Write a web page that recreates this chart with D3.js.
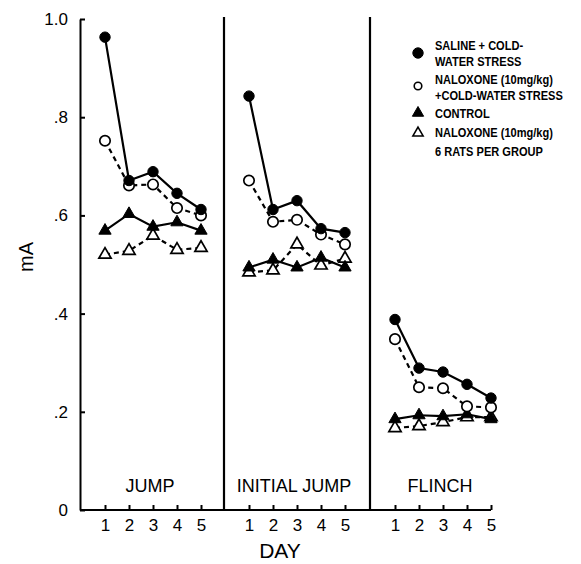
<!DOCTYPE html>
<meta charset="utf-8">
<head>
  <script src="https://d3js.org/d3.v7.min.js"></script>
<style>
body { margin: 0; background: #fff; }
svg { display: block; font-family: "Liberation Sans", Arial, sans-serif; }
.tick line { stroke: #000; stroke-width: 2; }
.tick text { font-size: 17px; fill: #000; }
</style>
</head>
<body>
<script>

// Data (mA per day, one row per panel)
var days = [1, 2, 3, 4, 5];
var panels = ["JUMP", "INITIAL JUMP", "FLINCH"];
var yTicks = [0, 0.2, 0.4, 0.6, 0.8, 1.0];

var salineStress = [
  [0.963, 0.671, 0.689, 0.645, 0.612],
  [0.843, 0.612, 0.630, 0.573, 0.565],
  [0.388, 0.289, 0.281, 0.256, 0.228]
];
var naloxoneStress = [
  [0.752, 0.661, 0.663, 0.615, 0.600],
  [0.671, 0.587, 0.591, 0.561, 0.541],
  [0.348, 0.250, 0.248, 0.211, 0.209]
];
var control = [
  [0.569, 0.603, 0.577, 0.586, 0.569],
  [0.494, 0.510, 0.494, 0.514, 0.494],
  [0.185, 0.193, 0.191, 0.195, 0.185]
];
var naloxone = [
  [0.520, 0.528, 0.559, 0.530, 0.534],
  [0.484, 0.488, 0.541, 0.498, 0.512],
  [0.167, 0.171, 0.179, 0.189, 0.189]
];

var legendLines = [
  "SALINE + COLD-", "WATER STRESS",
  "NALOXONE (10mg/kg)", "+COLD-WATER STRESS",
  "CONTROL", "NALOXONE (10mg/kg)", "6 RATS PER GROUP"
];

// Size of the picture
var width = 581, height = 564;
var svg = d3.select("body").append("svg")
    .attr("width", width)
    .attr("height", height);

// y scale shared by all panels
var y = d3.scaleLinear().domain([0, 1]).range([510, 19]);

// one x scale per panel
var panelLeft = [80, 224, 370];
var xs = panelLeft.map(function(l) {
  return d3.scaleLinear().domain([1, 5]).range([l + 25, l + 121]);
});

// y axis, ticks pointing inward
svg.append("g")
    .attr("transform", "translate(" + panelLeft[0] + ",0)")
    .call(d3.axisLeft(y)
      .tickValues(yTicks)
      .tickSizeInner(-5)
      .tickSizeOuter(0)
      .tickPadding(12)
      .tickFormat(function(d) {
        if (d === 0) return "0";
        if (d === 1) return "1.0";
        return d3.format(".1f")(d).replace(/^0/, "");
      }))
    .call(function(g) {
      g.select(".domain").attr("stroke", "#000").attr("stroke-width", 2);
    });

// base line across the panels
svg.append("line")
    .attr("x1", panelLeft[0]).attr("x2", xs[2](5))
    .attr("y1", y(0)).attr("y2", y(0))
    .attr("stroke", "#000").attr("stroke-width", 2);

// panel dividers
[panelLeft[1], panelLeft[2]].forEach(function(px) {
  svg.append("line")
      .attr("x1", px).attr("x2", px)
      .attr("y1", 17).attr("y2", y(0))
      .attr("stroke", "#000").attr("stroke-width", 2.2);
});

// x axes per panel
xs.forEach(function(x, i) {
  var g = svg.append("g")
      .attr("transform", "translate(0," + y(0) + ")")
      .call(d3.axisBottom(x)
        .tickValues(days)
        .tickSizeInner(-5)
        .tickSizeOuter(0)
        .tickPadding(9)
        .tickFormat(d3.format("d")));
  g.select(".domain").remove();
  g.selectAll(".tick text").style("font-size", "17px");

  svg.append("text")
      .attr("x", x(3) - 3)
      .attr("y", 492)
      .attr("text-anchor", "middle")
      .style("font-size", "18px")
      .text(panels[i]);
});

// axis titles
svg.append("text")
    .attr("transform", "translate(33,257) rotate(-90)")
    .attr("text-anchor", "middle")
    .style("font-size", "20px")
    .text("mA");

svg.append("text")
    .attr("x", 280).attr("y", 558)
    .attr("text-anchor", "middle")
    .style("font-size", "21px")
    .text("DAY");

// series
var series = [
  {data: naloxone, dashed: true, shape: d3.symbolTriangle, filled: false},
  {data: control, dashed: false, shape: d3.symbolTriangle, filled: true},
  {data: naloxoneStress, dashed: true, shape: d3.symbolCircle, filled: false},
  {data: salineStress, dashed: false, shape: d3.symbolCircle, filled: true}
];

function symbolSize(s) {
  return s.shape === d3.symbolCircle ? 85 : 65;
}

series.forEach(function(s) {
  s.data.forEach(function(vals, i) {
    var x = xs[i];
    var line = d3.line()
        .x(function(d, j) { return x(days[j]); })
        .y(function(d) { return y(d); });
    svg.append("path")
        .datum(vals)
        .attr("d", line)
        .attr("fill", "none")
        .attr("stroke", "#000")
        .attr("stroke-width", 2.2)
        .attr("stroke-dasharray", s.dashed ? "5,4" : null);
    svg.selectAll(null)
        .data(vals)
        .enter().append("path")
        .attr("transform", function(d, j) {
          return "translate(" + x(days[j]) + "," + y(d) + ")";
        })
        .attr("d", d3.symbol().type(s.shape).size(symbolSize(s)))
        .attr("fill", s.filled ? "#000" : "#fff")
        .attr("stroke", "#000")
        .attr("stroke-width", s.filled ? 1 : 1.7);
  });
});

// legend, squeezed horizontally like the narrow lettering of the original
var legendY = [45, 61, 79, 95, 113, 132, 151];
svg.selectAll(".leg")
    .data(legendLines)
    .enter().append("text")
    .attr("class", "leg")
    .attr("transform", function(d, i) {
      return "translate(435," + (legendY[i] + 5) + ") scale(0.82,1)";
    })
    .style("font-weight", "bold")
    .style("font-size", "13.5px")
    .text(function(d) { return d; });

var legendMarks = [
  {y: 53, shape: d3.symbolCircle, filled: true, size: 85},
  {y: 86, shape: d3.symbolCircle, filled: false, size: 45},
  {y: 113, shape: d3.symbolTriangle, filled: true, size: 55},
  {y: 133, shape: d3.symbolTriangle, filled: false, size: 45}
];
svg.selectAll(".legmark")
    .data(legendMarks)
    .enter().append("path")
    .attr("class", "legmark")
    .attr("transform", function(d) { return "translate(418," + d.y + ")"; })
    .attr("d", function(d) { return d3.symbol().type(d.shape).size(d.size)(); })
    .attr("fill", function(d) { return d.filled ? "#000" : "#fff"; })
    .attr("stroke", "#000")
    .attr("stroke-width", function(d) { return d.filled ? 1 : 1.6; });

</script>
</body>
